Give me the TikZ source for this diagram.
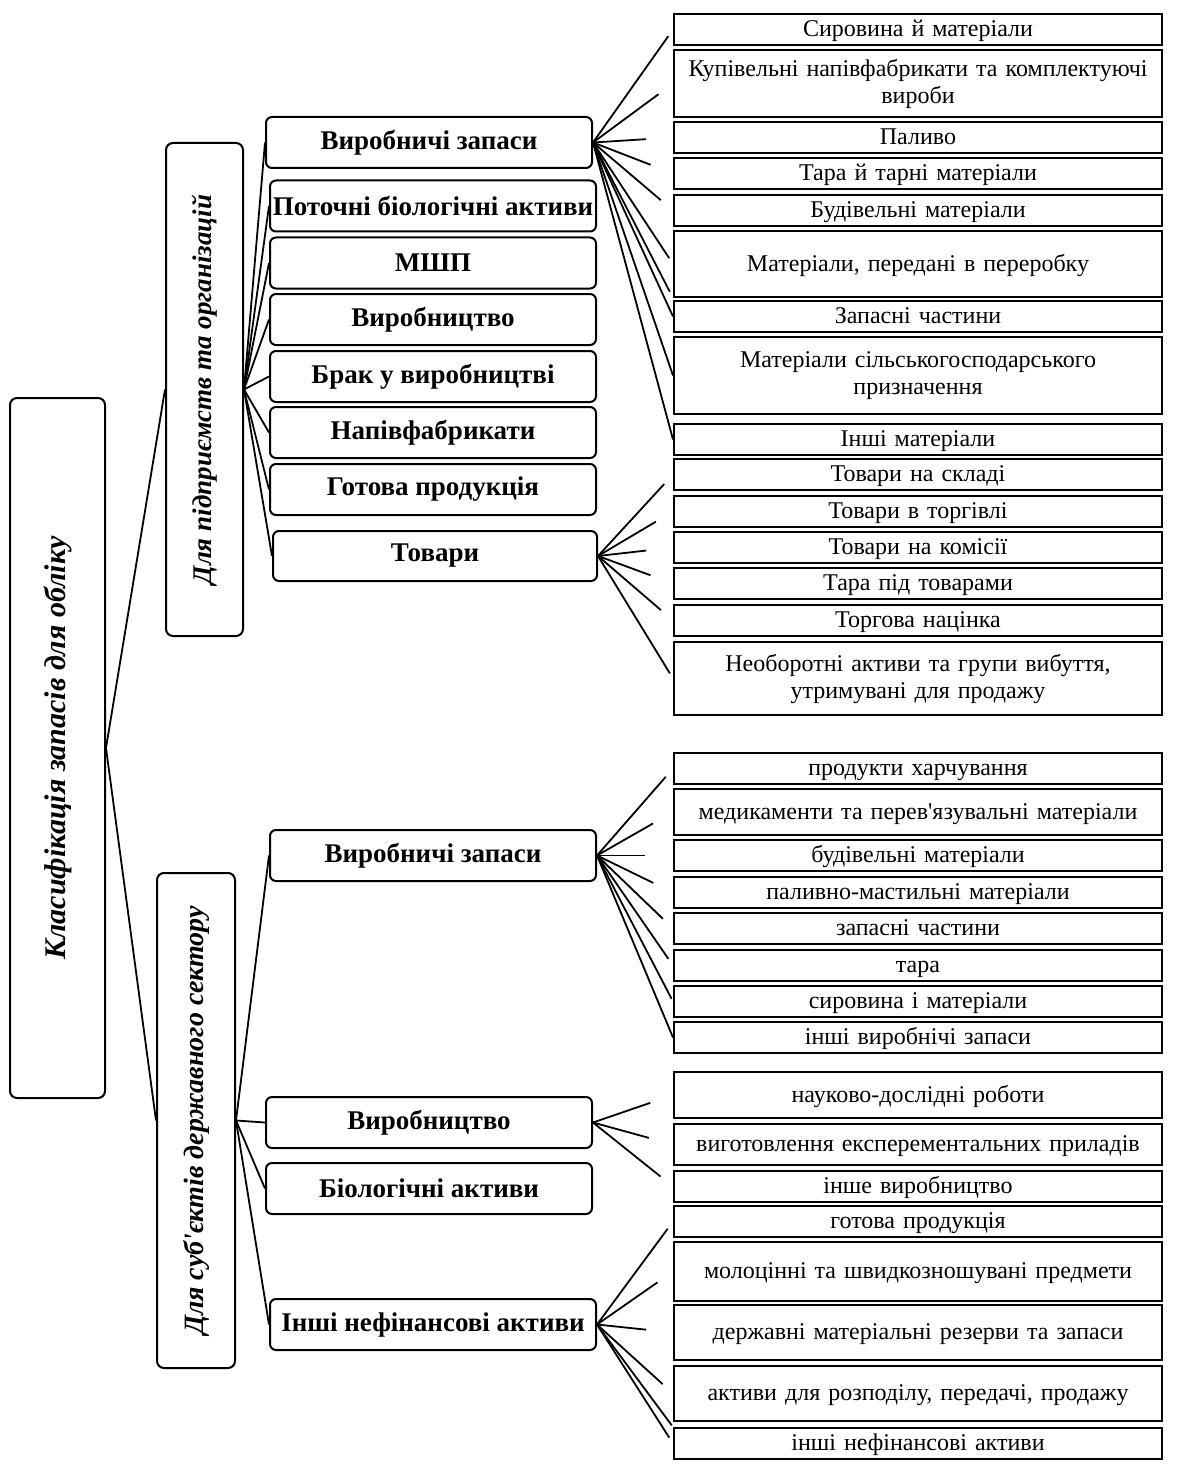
\documentclass[tikz,border=0pt]{standalone}
\usepackage{fontspec}
\setmainfont{Liberation Serif}

\begin{document}
\begin{tikzpicture}[x=1pt,y=-1pt,sidebox/.style={draw,line width=2pt,rounded corners=7pt,rotate=90,inner sep=2pt,font=\fontsize{27}{32}\selectfont\bfseries\itshape},midbox/.style={draw,line width=2pt,rounded corners=6pt,minimum width=326pt,minimum height=51pt,inner sep=1pt,font=\fontsize{27}{30}\selectfont\bfseries},itembox/.style={draw,line width=2pt,minimum width=488pt,text width=478pt,align=center,inner sep=1pt,font=\fontsize{24}{27}\selectfont},rowbox/.style={itembox,minimum height=31pt,text height=15pt,text depth=1pt},link/.style={line width=1.8pt}]
\useasboundingbox (0,0) rectangle (1191,1471);
% left column
\node[sidebox,minimum width=700pt,minimum height=95pt,font=\fontsize{30}{34}\selectfont\bfseries\itshape] (cls) at (57.5,748) {Класифікація запасів для обліку};
\node[sidebox,minimum width=493pt,minimum height=77pt] (ent) at (204.5,389.5) {Для підприємств та організацій};
\node[sidebox,minimum width=495pt,minimum height=78pt,font=\fontsize{28}{32}\selectfont\bfseries\itshape] (pub) at (196,1120.5) {Для суб\textquotesingle єктів державного сектору};
% middle column
\node[midbox] (m1) at (429,142.5) {Виробничі запаси};
\node[midbox] (m2) at (433,206) {Поточні біологічні активи};
\node[midbox] (m3) at (433,263) {МШП};
\node[midbox] (m4) at (433,319.5) {Виробництво};
\node[midbox] (m5) at (433,376.5) {Брак у виробництві};
\node[midbox] (m6) at (433,432.5) {Напівфабрикати};
\node[midbox] (m7) at (433,489.5) {Готова продукція};
\node[midbox,minimum width=324pt,minimum height=50pt] (m8) at (435,556) {Товари};
\node[midbox] (n1) at (433,855.5) {Виробничі запаси};
\node[midbox] (n2) at (429,1122.5) {Виробництво};
\node[midbox] (n3) at (429,1188.5) {Біологічні активи};
\node[midbox] (n4) at (433,1324.5) {Інші нефінансові активи};
% right column, enterprises
\node[rowbox] (r1) at (918,29.5) {Сировина й матеріали};
\node[itembox,minimum height=67pt] (r2) at (918,83.5) {Купівельні напівфабрикати та комплектуючі\\вироби};
\node[rowbox] (r3) at (918,137.5) {Паливо};
\node[rowbox] (r4) at (918,173.5) {Тара й тарні матеріали};
\node[rowbox] (r5) at (918,210.5) {Будівельні матеріали};
\node[rowbox,minimum height=66pt] (r6) at (918,264) {Матеріали, передані в переробку};
\node[rowbox] (r7) at (918,316.5) {Запасні частини};
\node[itembox,minimum height=77pt] (r8) at (918,375.5) {Матеріали сільськогосподарського\\призначення};
\node[rowbox] (r9) at (918,439.5) {Інші матеріали};
\node[rowbox] (r10) at (918,474.5) {Товари на складі};
\node[rowbox] (r11) at (918,511.5) {Товари в торгівлі};
\node[rowbox] (r12) at (918,547.5) {Товари на комісії};
\node[rowbox] (r13) at (918,583.5) {Тара під товарами};
\node[rowbox] (r14) at (918,620.5) {Торгова націнка};
\node[itembox,minimum height=73pt] (r15) at (918,678.5) {Необоротні активи та групи вибуття,\\утримувані для продажу};
% right column, public sector
\node[rowbox] (s1) at (918,768.5) {продукти харчування};
\node[rowbox,minimum height=46pt] (s2) at (918,812) {медикаменти та перев\textquotesingle язувальні матеріали};
\node[rowbox] (s3) at (918,855.5) {будівельні матеріали};
\node[rowbox] (s4) at (918,892.5) {паливно-мастильні матеріали};
\node[rowbox] (s5) at (918,928.5) {запасні частини};
\node[rowbox] (s6) at (918,965.5) {тара};
\node[rowbox] (s7) at (918,1001.5) {сировина і матеріали};
\node[rowbox] (s8) at (918,1037.5) {інші виробнічі запаси};
\node[rowbox,minimum height=46pt] (s9) at (918,1095) {науково-дослідні роботи};
\node[rowbox,minimum height=41pt] (s10) at (918,1144.5) {виготовлення експерементальних приладів};
\node[rowbox] (s11) at (918,1186.5) {інше виробництво};
\node[rowbox] (s12) at (918,1221.5) {готова продукція};
\node[rowbox,minimum height=59pt] (s13) at (918,1271.5) {молоцінні та швидкозношувані предмети};
\node[rowbox,minimum height=55pt] (s14) at (918,1332.5) {державні матеріальні резерви та запаси};
\node[rowbox,minimum height=55pt] (s15) at (918,1393.5) {активи для розподілу, передачі, продажу};
\node[rowbox] (s16) at (918,1443.5) {інші нефінансові активи};
% left fans
\draw[link] (cls.south) -- (ent.north);
\draw[link] (cls.south) -- (pub.north);
\draw[link] (ent.south) -- (m1.west);
\draw[link] (ent.south) -- (m2.west);
\draw[link] (ent.south) -- (m3.west);
\draw[link] (ent.south) -- (m4.west);
\draw[link] (ent.south) -- (m5.west);
\draw[link] (ent.south) -- (m6.west);
\draw[link] (ent.south) -- (m7.west);
\draw[link] (ent.south) -- (m8.west);
\draw[link] (pub.south) -- (n1.west);
\draw[link] (pub.south) -- (n2.west);
\draw[link] (pub.south) -- (n3.west);
\draw[link] (pub.south) -- (n4.west);
% right fans
\draw[link,shorten >=8pt] (m1.east) -- (r1.west);
\draw[link,shorten >=18pt] (m1.east) -- (r2.west);
\draw[link,shorten >=27pt] (m1.east) -- (r3.west);
\draw[link,shorten >=24pt] (m1.east) -- (r4.west);
\draw[link,shorten >=16pt] (m1.east) -- (r5.west);
\draw[link,shorten >=7pt] (m1.east) -- (r6.west);
\draw[link,shorten >=7pt] (m1.east) -- (r6.south west);
\draw[link] (m1.east) -- (r7.west);
\draw[link] (m1.east) -- (r8.west);
\draw[link] (m1.east) -- (r9.west);
\draw[link,shorten >=13pt] (m8.east) -- (r10.west);
\draw[link,shorten >=20pt] (m8.east) -- (r11.west);
\draw[link,shorten >=27pt] (m8.east) -- (r12.west);
\draw[link,shorten >=24pt] (m8.east) -- (r13.west);
\draw[link,shorten >=16pt] (m8.east) -- (r14.west);
\draw[link,shorten >=6pt] (m8.east) -- (r15.west);
\draw[link,shorten >=11pt] (n1.east) -- (s1.west);
\draw[link,shorten >=23pt] (n1.east) -- (s2.west);
\draw[link,shorten >=28pt] (n1.east) -- (s3.west);
\draw[link,shorten >=22pt] (n1.east) -- (s4.west);
\draw[link,shorten >=14pt] (n1.east) -- (s5.west);
\draw[link,shorten >=8pt] (n1.east) -- (s6.west);
\draw[link,shorten >=3pt] (n1.east) -- (s7.west);
\draw[link] (n1.east) -- (s8.west);
\draw[link,shorten >=24pt] (n2.east) -- (s9.west);
\draw[link,shorten >=25pt] (n2.east) -- (s10.west);
\draw[link,shorten >=16pt] (n2.east) -- (s11.west);
\draw[link,shorten >=9pt] (n4.east) -- (s12.west);
\draw[link,shorten >=19pt] (n4.east) -- (s13.west);
\draw[link,shorten >=27pt] (n4.east) -- (s14.west);
\draw[link,shorten >=14pt] (n4.east) -- (s15.west);
\draw[link,shorten >=7pt] (n4.east) -- (s16.west);
\draw[link,shorten >=2pt] (n4.east) -- (s16.north west);
\end{tikzpicture}
\end{document}
